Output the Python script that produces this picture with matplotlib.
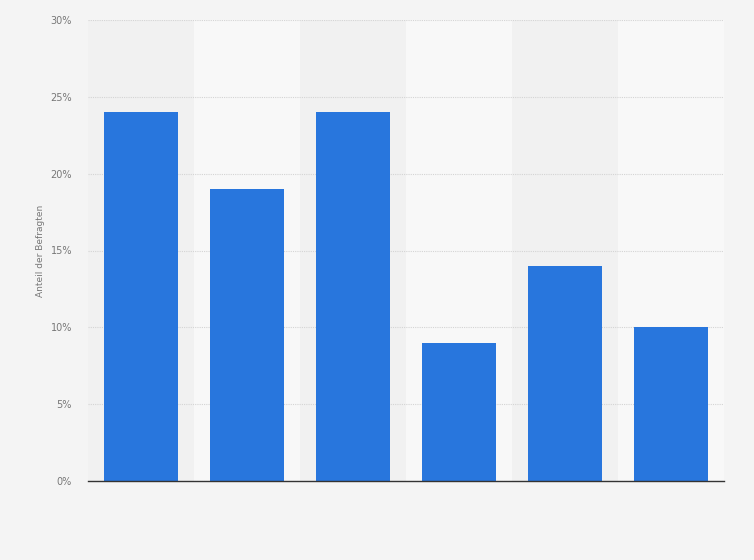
import matplotlib
matplotlib.use("Agg")
import matplotlib.pyplot as plt
import numpy as np

categories = ["A", "B", "C", "D", "E", "F"]
values = [24, 19, 24, 9, 14, 10]
yticks = [0, 5, 10, 15, 20, 25, 30]
ytick_labels = ["0%", "5%", "10%", "15%", "20%", "25%", "30%"]

fig = plt.figure(figsize=(7.54, 5.60), dpi=100)
fig.patch.set_facecolor("#f4f4f4")
ax = fig.add_axes([88/754, 1-481/560, (724-88)/754, (481-20)/560])
ax.set_facecolor("#f4f4f4")

x = np.arange(len(categories))
for i in x:
    ax.axvspan(i-0.5, i+0.5, color="#f1f1f1" if i % 2 == 0 else "#f8f8f8", zorder=0, lw=0)

ax.bar(x, values, width=0.69, color="#2876dd", zorder=3)
ax.set_xlim(-0.5, len(categories)-0.5)
ax.set_ylim(0, 30)
ax.set_yticks(yticks)
ax.set_yticklabels(ytick_labels, fontsize=7, color="#777777")
ax.set_xticks([])
ax.yaxis.grid(True, linestyle=(0, (1, 1)), color="#d4d4d4", linewidth=0.8, zorder=1)
ax.tick_params(axis="y", length=0, pad=11.5)
for s in ["top", "right", "left"]:
    ax.spines[s].set_visible(False)
ax.spines["bottom"].set_color("#333333")
ax.spines["bottom"].set_linewidth(1.0)
ax.spines["bottom"].set_zorder(4)
ax.set_ylabel("Anteil der Befragten", fontsize=6.5, color="#777777", labelpad=4)

fig.savefig("out.png", dpi=100, facecolor=fig.get_facecolor())
